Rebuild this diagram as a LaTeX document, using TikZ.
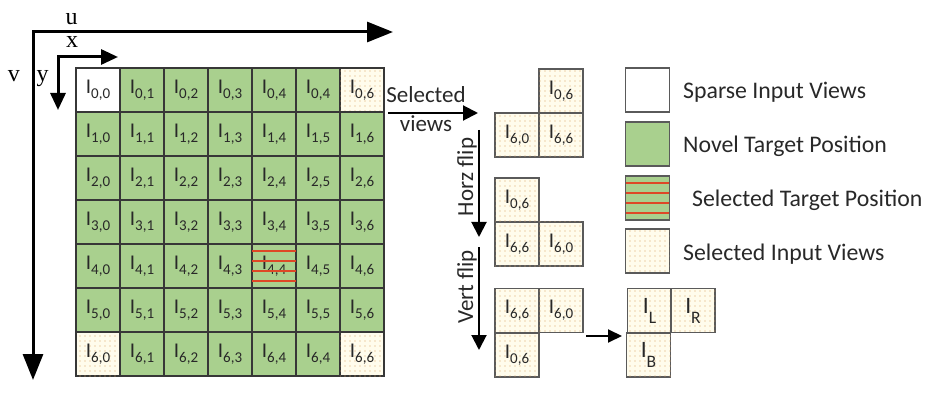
\documentclass[tikz,border=0pt]{standalone}
\usepackage{fontspec}
\setmainfont{Carlito}
\newfontfamily\axfont{Liberation Serif}
\usetikzlibrary{arrows.meta,patterns.meta}

\definecolor{cellgreen}{RGB}{169,208,142}
\definecolor{creamfill}{RGB}{255,252,236}
\definecolor{dotcol}{RGB}{220,165,100}
\definecolor{lineg}{RGB}{55,55,55}
\definecolor{boxg}{RGB}{90,90,90}
\definecolor{txt}{RGB}{40,40,40}
\definecolor{stripe}{RGB}{222,72,38}

\tikzdeclarepattern{
  name=cdots,
  type=uncolored,
  bounding box={(-2.5pt,-2.5pt) and (2.5pt,2.5pt)},
  tile size={(5pt,5pt)},
  code={\fill (0pt,0pt) circle (0.65pt);}
}

\newcommand\cellI[1]{I\raisebox{-5pt}{\fontsize{15}{15}\selectfont #1}}
\newcommand\bigI[1]{I\raisebox{-10pt}{\fontsize{17.5}{17.5}\selectfont #1}}

\tikzset{
  cellbox/.style={draw=lineg, line width=1.5pt, minimum size=44pt, inner sep=0pt, outer sep=0pt,
    font=\fontsize{21}{21}\selectfont, text=txt},
  greencell/.style={cellbox, fill=cellgreen},
  whitecell/.style={cellbox, fill=white},
  dotcell/.style={cellbox, fill=creamfill, postaction={pattern={cdots}, pattern color=dotcol}},
  smallcell/.style={dotcell, draw=boxg, line width=1.8pt},
  bigcell/.style={smallcell, font=\fontsize{23.5}{23.5}\selectfont},
  legbox/.style={draw=boxg, line width=1.8pt, minimum size=44pt, inner sep=0pt, outer sep=0pt},
  legtext/.style={anchor=base west, font=\fontsize{23.8}{23.8}\selectfont, text=txt, inner sep=0pt},
  axlabel/.style={anchor=base, font=\axfont\fontsize{24}{24}\selectfont, inner sep=0pt},
  axisline/.style={line width=3pt, line join=miter},
  midarrow/.style={line width=2pt, -{Triangle[length=15pt,width=15pt]}},
  fliptext/.style={rotate=90, font=\fontsize{23}{23}\selectfont, text=txt, inner sep=0pt},
  stripeline/.style={draw=stripe, line width=1.3pt}
}

\begin{document}
\begin{tikzpicture}[x=1pt,y=-1pt]
\useasboundingbox (0,0) rectangle (938,401);

% main axes
\coordinate (corner) at (33,32);
\coordinate (vtip) at (33,380);
\coordinate (utip) at (393,32);
\draw[axisline, {Triangle[length=26pt,width=20pt]}-{Triangle[length=26pt,width=20pt]}] (vtip) -- (corner) -- (utip);
\node[axlabel] (ulab) at (71.5,25) {u};
\node[axlabel] (vlab) at (14,82) {v};

% small axes
\coordinate (corner2) at (58,57);
\coordinate (xtip) at (118,57);
\coordinate (ytip) at (58,110);
\draw[axisline, {Triangle[length=17pt,width=15pt]}-{Triangle[length=17pt,width=15pt]}] (ytip) -- (corner2) -- (xtip);
\node[axlabel] (xlab) at (72,48) {x};
\node[axlabel] (ylab) at (42.5,82) {y};

% main grid
\foreach \r in {0,...,6}{
  \foreach \c in {0,...,6}{
    \pgfmathtruncatemacro\lc{((\c==5) && ((\r==0) || (\r==6))) ? 4 : \c}
    \def\sty{greencell}
    \ifnum\r=0 \ifnum\c=0 \def\sty{whitecell}\fi\fi
    \ifnum\r=0 \ifnum\c=6 \def\sty{dotcell}\fi\fi
    \ifnum\r=6 \ifnum\c=0 \def\sty{dotcell}\fi\fi
    \ifnum\r=6 \ifnum\c=6 \def\sty{dotcell}\fi\fi
    \node[style=\sty] (m\r\c) at (98+44*\c, 90+44*\r) {\cellI{\r,\lc}};
  }
}
\foreach \dy in {7,17,27,37}{
  \draw[stripeline] ([yshift=-\dy pt]m44.north west) -- ([yshift=-\dy pt]m44.north east);
}

% selected views arrow
\coordinate (sv1) at (388,113);
\coordinate (sv2) at (478,113);
\draw[midarrow] (sv1) -- (sv2);
\node[anchor=base, font=\fontsize{23}{23}\selectfont, text=txt, inner sep=0pt] (selt) at (426,103) {Selected};
\node[anchor=base, font=\fontsize{23}{23}\selectfont, text=txt, inner sep=0pt] (viewt) at (426,132) {views};

% group 1
\node[smallcell] (a06) at (561,91) {\cellI{0,6}};
\node[smallcell] (a60) at (517,135) {\cellI{6,0}};
\node[smallcell] (a66) at (561,135) {\cellI{6,6}};

% horz flip
\coordinate (hf1) at (479,130);
\coordinate (hf2) at (479,237);
\draw[midarrow] (hf1) -- (hf2);
\node[fliptext] (hft) at (467,177) {Horz flip};

% group 2
\node[smallcell] (b06) at (517,200) {\cellI{0,6}};
\node[smallcell] (b66) at (517,244) {\cellI{6,6}};
\node[smallcell] (b60) at (561,244) {\cellI{6,0}};

% vert flip
\coordinate (vf1) at (479,247);
\coordinate (vf2) at (479,350);
\draw[midarrow] (vf1) -- (vf2);
\node[fliptext] (vft) at (467,287) {Vert flip};

% group 3
\node[smallcell] (c66) at (517,310.5) {\cellI{6,6}};
\node[smallcell] (c60) at (561,310.5) {\cellI{6,0}};
\node[smallcell] (c06) at (517,355) {\cellI{0,6}};

% arrow to result
\coordinate (ra1) at (586,336);
\coordinate (ra2) at (622,336);
\draw[line width=2pt, -{Triangle[length=14pt,width=13pt]}] (ra1) -- (ra2);

% result group
\node[bigcell] (IL) at (649.5,310.5) {\bigI{L}};
\node[bigcell] (IR) at (693,310.5) {\bigI{R}};
\node[bigcell] (IB) at (648.5,355) {\bigI{B}};

% legend
\node[legbox, fill=white] (lg1) at (647.5,90) {};
\node[legbox, fill=cellgreen] (lg2) at (647.5,144) {};
\node[legbox, fill=cellgreen] (lg3) at (647.5,198) {};
\foreach \dy in {7,17,27,37}{
  \draw[stripeline] ([yshift=-\dy pt]lg3.north west) -- ([yshift=-\dy pt]lg3.north east);
}
\draw[draw=boxg, line width=1.8pt] (lg3.north west) rectangle (lg3.south east);
\node[legbox, fill=creamfill, postaction={pattern={cdots}, pattern color=dotcol}] (lg4) at (647.5,251) {};

\node[legtext] (lt1) at (683,99) {Sparse Input Views};
\node[legtext] (lt2) at (683,153) {Novel Target Position};
\node[legtext] (lt3) at (692,207) {Selected Target Position};
\node[legtext] (lt4) at (683,260) {Selected Input Views};
\end{tikzpicture}
\end{document}
